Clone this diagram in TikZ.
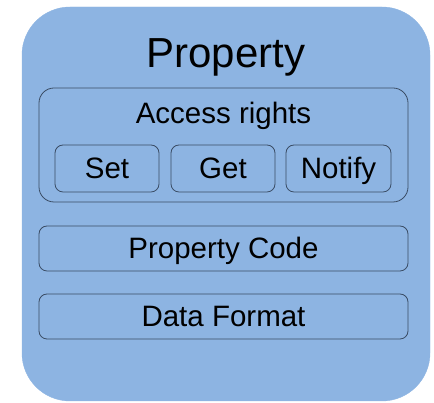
\documentclass[tikz,border=0pt]{standalone}
\usepackage{fontspec}
\setmainfont{Liberation Sans}
\definecolor{panel}{RGB}{141,180,226}
\definecolor{edge}{RGB}{58,76,100}
\begin{document}
\begin{tikzpicture}[x=1pt,y=1pt,
  shell/.style={fill=panel, draw=panel, rounded corners=48pt, inner sep=0pt},
  group/.style={draw=edge, line width=0.8pt, rounded corners=15pt, inner sep=0pt},
  field/.style={draw=edge, line width=0.8pt, rounded corners=8pt, inner sep=0pt,
    font=\fontsize{29.5}{34}\selectfont, text height=21pt, text depth=0pt},
  caption/.style={inner sep=0pt, anchor=base}]
\useasboundingbox (0,0) rectangle (434,403);

% outer property container
\node[shell, minimum width=408pt, minimum height=394pt] (prop) at (226,199) {};
\node[caption, font=\fontsize{42}{50}\selectfont] (title) at (226,335.5) {Property};

% access rights group
\node[group, minimum width=369pt, minimum height=114pt] (access) at (223.5,258) {};
\node[caption, font=\fontsize{29.5}{34}\selectfont] (accesslbl) at (223.5,279) {Access rights};
\node[field, minimum width=104pt, minimum height=47pt] (set) at (107,234.5) {Set};
\node[field, minimum width=104pt, minimum height=47pt] (get) at (223,234.5) {Get};
\node[field, minimum width=105pt, minimum height=47pt] (notify) at (338.5,234.5) {Notify};

% remaining fields
\node[field, minimum width=369pt, minimum height=45pt] (code) at (223.5,154.5) {Property Code};
\node[field, minimum width=369pt, minimum height=45pt] (format) at (223.5,86.5) {Data Format};
\end{tikzpicture}
\end{document}
